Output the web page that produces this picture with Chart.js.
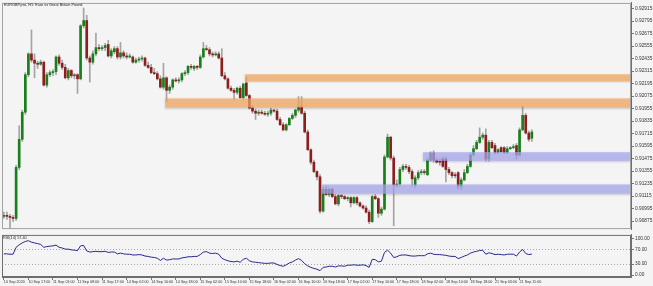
<!DOCTYPE html>
<html>
<head>
<meta charset="utf-8">
<script src="https://cdn.jsdelivr.net/npm/chart.js@4.4.0/dist/chart.umd.min.js"></script>
<style>
  body { margin: 0; background: #f4f4f4; width: 653px; height: 286px; overflow: hidden; position: relative;
         font-family: "Liberation Sans", Arial, sans-serif; }
  canvas { position: absolute; left: 0; }
  #main { top: 0; }
  #rsi { top: 232px; }
  .lbl { position: absolute; font-size: 3.8px; color: #222; white-space: nowrap; }
</style>
</head>
<body>
<canvas id="main" width="653" height="232"></canvas>
<canvas id="rsi" width="653" height="54"></canvas>
<div class="lbl" style="left:4px;top:3px">EURGBP.pro, H1: Euro vs Great Britain Pound</div>
<div class="lbl" style="left:3px;top:236px">RSI(14) 57.40</div>
<script>
// H1 bars from 10 Sep 2020 09:00 to 21 Sep 15:00
const opens = [
  0.9092,0.9093,0.9092,0.9091,0.9090,0.9139,0.9166,0.9192,0.9228,0.9248,
  0.9242,0.9239,0.9238,0.9240,0.9218,0.9228,0.9230,0.9231,0.9245,0.9239,
  0.9235,0.9225,0.9232,0.9227,0.9228,0.9224,0.9275,0.9280,0.9244,0.9240,
  0.9248,0.9254,0.9253,0.9254,0.9257,0.9246,0.9250,0.9253,0.9245,0.9249,
  0.9246,0.9245,0.9245,0.9240,0.9242,0.9243,0.9244,0.9237,0.9235,0.9230,
  0.9229,0.9224,0.9216,0.9225,0.9213,0.9216,0.9223,0.9222,0.9223,0.9229,
  0.9230,0.9236,0.9234,0.9236,0.9235,0.9245,0.9253,0.9252,0.9248,0.9247,
  0.9248,0.9244,0.9227,0.9224,0.9215,0.9213,0.9211,0.9215,0.9206,0.9220,
  0.9208,0.9196,0.9193,0.9191,0.9192,0.9191,0.9190,0.9191,0.9194,0.9193,
  0.9185,0.9180,0.9175,0.9180,0.9186,0.9189,0.9194,0.9197,0.9191,0.9173,
  0.9156,0.9144,0.9135,0.9130,0.9097,0.9118,0.9113,0.9118,0.9111,0.9104,
  0.9112,0.9111,0.9109,0.9110,0.9105,0.9110,0.9105,0.9102,0.9100,0.9096,
  0.9087,0.9111,0.9109,0.9095,0.9099,0.9149,0.9168,0.9148,0.9122,0.9123,
  0.9137,0.9140,0.9139,0.9135,0.9122,0.9129,0.9134,0.9135,0.9132,0.9146,
  0.9153,0.9146,0.9145,0.9147,0.9147,0.9137,0.9134,0.9132,0.9134,0.9121,
  0.9127,0.9134,0.9140,0.9151,0.9157,0.9163,0.9168,0.9170,0.9147,0.9163,
  0.9160,0.9153,0.9158,0.9158,0.9153,0.9157,0.9158,0.9160,0.9151,0.9175,
  0.9189,0.9172,0.9167
];
const highs = [
  0.9096,0.9096,0.9094,0.9093,0.9141,0.9179,0.9194,0.9230,0.9249,0.9271,
  0.9248,0.9241,0.9242,0.9241,0.9230,0.9232,0.9233,0.9246,0.9247,0.9242,
  0.9238,0.9234,0.9233,0.9229,0.9229,0.9276,0.9292,0.9285,0.9246,0.9251,
  0.9268,0.9257,0.9256,0.9258,0.9261,0.9253,0.9255,0.9255,0.9259,0.9251,
  0.9249,0.9248,0.9246,0.9244,0.9245,0.9246,0.9245,0.9240,0.9238,0.9234,
  0.9231,0.9227,0.9239,0.9226,0.9218,0.9224,0.9225,0.9225,0.9230,0.9232,
  0.9237,0.9238,0.9237,0.9237,0.9247,0.9259,0.9256,0.9254,0.9250,0.9250,
  0.9250,0.9253,0.9230,0.9225,0.9217,0.9215,0.9216,0.9217,0.9220,0.9226,
  0.9209,0.9198,0.9195,0.9194,0.9194,0.9193,0.9193,0.9196,0.9195,0.9195,
  0.9187,0.9182,0.9181,0.9187,0.9191,0.9195,0.9207,0.9207,0.9193,0.9175,
  0.9157,0.9146,0.9136,0.9132,0.9120,0.9121,0.9119,0.9119,0.9113,0.9113,
  0.9113,0.9112,0.9111,0.9111,0.9111,0.9111,0.9106,0.9103,0.9102,0.9098,
  0.9112,0.9113,0.9110,0.9101,0.9151,0.9171,0.9169,0.9150,0.9127,0.9139,
  0.9142,0.9142,0.9141,0.9137,0.9131,0.9136,0.9137,0.9137,0.9148,0.9154,
  0.9155,0.9148,0.9147,0.9149,0.9149,0.9139,0.9135,0.9134,0.9135,0.9129,
  0.9137,0.9142,0.9153,0.9160,0.9165,0.9177,0.9172,0.9176,0.9165,0.9165,
  0.9162,0.9157,0.9159,0.9159,0.9159,0.9159,0.9161,0.9162,0.9177,0.9198,
  0.9191,0.9174,0.9175
];
const lows = [
  0.9090,0.9089,0.9081,0.9087,0.9088,0.9137,0.9164,0.9190,0.9226,0.9240,
  0.9225,0.9234,0.9237,0.9217,0.9216,0.9226,0.9227,0.9228,0.9237,0.9233,
  0.9224,0.9223,0.9225,0.9224,0.9210,0.9223,0.9273,0.9242,0.9221,0.9238,
  0.9246,0.9251,0.9251,0.9251,0.9245,0.9244,0.9248,0.9243,0.9243,0.9244,
  0.9243,0.9244,0.9239,0.9239,0.9240,0.9241,0.9236,0.9234,0.9229,0.9228,
  0.9223,0.9215,0.9214,0.9202,0.9210,0.9214,0.9221,0.9220,0.9221,0.9227,
  0.9228,0.9233,0.9232,0.9233,0.9234,0.9244,0.9251,0.9246,0.9245,0.9246,
  0.9243,0.9226,0.9223,0.9214,0.9212,0.9204,0.9209,0.9205,0.9204,0.9207,
  0.9195,0.9191,0.9185,0.9189,0.9190,0.9189,0.9188,0.9189,0.9192,0.9184,
  0.9179,0.9174,0.9174,0.9179,0.9185,0.9187,0.9192,0.9190,0.9172,0.9155,
  0.9142,0.9134,0.9127,0.9095,0.9096,0.9112,0.9111,0.9110,0.9103,0.9102,
  0.9109,0.9108,0.9107,0.9101,0.9104,0.9103,0.9101,0.9099,0.9095,0.9085,
  0.9086,0.9108,0.9091,0.9093,0.9098,0.9148,0.9146,0.9083,0.9120,0.9121,
  0.9135,0.9137,0.9133,0.9121,0.9120,0.9127,0.9132,0.9132,0.9131,0.9145,
  0.9144,0.9143,0.9141,0.9139,0.9125,0.9132,0.9129,0.9129,0.9118,0.9118,
  0.9126,0.9133,0.9139,0.9150,0.9156,0.9162,0.9166,0.9145,0.9145,0.9157,
  0.9152,0.9152,0.9153,0.9152,0.9152,0.9156,0.9157,0.9147,0.9150,0.9174,
  0.9171,0.9164,0.9164
];
const closes = [
  0.9093,0.9092,0.9091,0.9090,0.9139,0.9166,0.9192,0.9228,0.9248,0.9242,
  0.9239,0.9238,0.9240,0.9218,0.9228,0.9230,0.9231,0.9245,0.9239,0.9235,
  0.9225,0.9232,0.9227,0.9228,0.9224,0.9275,0.9280,0.9244,0.9240,0.9248,
  0.9254,0.9253,0.9254,0.9256,0.9246,0.9251,0.9253,0.9245,0.9249,0.9246,
  0.9245,0.9246,0.9240,0.9242,0.9243,0.9244,0.9237,0.9235,0.9230,0.9229,
  0.9224,0.9216,0.9225,0.9213,0.9216,0.9223,0.9222,0.9223,0.9229,0.9230,
  0.9236,0.9235,0.9236,0.9235,0.9245,0.9253,0.9252,0.9248,0.9247,0.9248,
  0.9244,0.9227,0.9224,0.9215,0.9213,0.9211,0.9215,0.9206,0.9219,0.9208,
  0.9196,0.9193,0.9191,0.9192,0.9191,0.9190,0.9191,0.9194,0.9193,0.9185,
  0.9180,0.9175,0.9180,0.9186,0.9189,0.9194,0.9197,0.9191,0.9173,0.9156,
  0.9144,0.9135,0.9130,0.9097,0.9118,0.9113,0.9118,0.9111,0.9104,0.9112,
  0.9111,0.9109,0.9110,0.9105,0.9110,0.9105,0.9102,0.9100,0.9096,0.9087,
  0.9111,0.9109,0.9095,0.9099,0.9149,0.9168,0.9148,0.9122,0.9123,0.9137,
  0.9140,0.9139,0.9135,0.9128,0.9129,0.9134,0.9135,0.9134,0.9146,0.9153,
  0.9146,0.9144,0.9144,0.9140,0.9137,0.9134,0.9131,0.9131,0.9121,0.9127,
  0.9134,0.9140,0.9151,0.9157,0.9163,0.9168,0.9170,0.9147,0.9163,0.9158,
  0.9153,0.9156,0.9154,0.9153,0.9157,0.9158,0.9159,0.9151,0.9175,0.9189,
  0.9172,0.9166,0.9173
];
const rsiValues = [
  58,58,57,57,76,83,88,92,94,90,
  88,86,84,76,78,79,80,82,76,74,
  71,71,69,68,67,80,81,66,63,64,
  65,64,64,65,62,63,63,58,60,58,
  57,57,55,55,56,55,52,51,49,48,
  46,40,46,41,42,44,44,44,47,48,
  50,50,51,51,56,63,64,60,59,60,
  57,46,42,39,37,36,38,35,43,46,
  39,36,35,34,33,32,32,33,33,29,
  26,24,28,33,36,41,45,40,31,25,
  21,18,16,12,21,22,24,24,22,25,
  25,24,27,27,28,27,27,28,26,21,
  43,42,36,38,62,68,60,48,50,54,
  55,55,53,52,52,53,53,53,58,60,
  57,56,56,55,54,52,51,51,45,48,
  52,55,60,63,65,67,68,57,61,59,
  56,57,56,55,57,57,57,52,63,70,
  59,56,57.4
];
// one time label every 8 bars
const timeLabels = [
  '10 Sep 2020','10 Sep 17:00','11 Sep 01:00','11 Sep 09:00','11 Sep 17:00',
  '14 Sep 02:00','14 Sep 10:00','14 Sep 18:00','15 Sep 02:00','15 Sep 10:00',
  '15 Sep 18:00','16 Sep 02:00','16 Sep 10:00','16 Sep 18:00','17 Sep 02:00',
  '17 Sep 10:00','17 Sep 18:00','18 Sep 02:00','18 Sep 10:00','18 Sep 18:00',
  '21 Sep 03:00','21 Sep 11:00'
];
const priceTicks = [0.92915,0.92795,0.92675,0.92555,0.92435,0.92315,0.92195,0.92075,0.91955,
                    0.91835,0.91715,0.91595,0.91475,0.91355,0.91235,0.91115,0.90995,0.90875];
const rsiTicks = [100, 70, 30, 0];
const rsiLevels = [70, 30];
// supply / demand zones: first bar, upper price, lower price
const zoneStart = [79, 53, 137, 104];
const zoneTop = [0.92285, 0.92053, 0.91537, 0.91227];
const zoneBottom = [0.92215, 0.91965, 0.91453, 0.91137];
const zoneKind = ['supply', 'supply', 'demand', 'demand'];

Chart.defaults.font.family = "'Liberation Sans', Arial, sans-serif";
const X_MIN = -0.6, X_MAX = 204.3;
const UP = '#17801a', DOWN = '#8c1e1e', WICK = '#a4a4a4';
const tickFont = { size: 4.8, lineHeight: 0.8 };

const zonesPlugin = {
  id: 'zones',
  afterDatasetsDraw(chart) {
    const { ctx, chartArea, scales: { x, y } } = chart;
    ctx.save();
    zoneStart.forEach((s, k) => {
      const x0 = x.getPixelForValue(s - 0.5);
      const y0 = y.getPixelForValue(zoneTop[k]);
      const y1 = y.getPixelForValue(zoneBottom[k]);
      ctx.shadowColor = 'rgba(0,0,0,0.25)';
      ctx.shadowBlur = 2;
      ctx.shadowOffsetY = 1;
      ctx.fillStyle = zoneKind[k] === 'supply' ? 'rgba(251,173,98,0.7)' : 'rgba(173,173,247,0.7)';
      ctx.fillRect(x0, y0, chartArea.right - x0, y1 - y0);
    });
    ctx.restore();
  }
};

const framePlugin = {
  id: 'frame',
  afterDraw(chart, args, opts) {
    const { ctx, chartArea: a } = chart;
    ctx.save();
    ctx.strokeStyle = opts.color;
    ctx.lineWidth = 1;
    ctx.strokeRect(a.left + 0.5, a.top + 0.5, a.right - a.left - 1, a.bottom - a.top - 1);
    ctx.restore();
  }
};

const levelsPlugin = {
  id: 'levels',
  beforeDatasetsDraw(chart) {
    const { ctx, chartArea: a, scales: { y } } = chart;
    ctx.save();
    ctx.strokeStyle = '#a8a8a8';
    ctx.lineWidth = 1;
    ctx.setLineDash([1, 2]);
    rsiLevels.forEach(v => {
      const py = Math.round(y.getPixelForValue(v)) + 0.5;
      ctx.beginPath();
      ctx.moveTo(a.left, py);
      ctx.lineTo(a.right, py);
      ctx.stroke();
    });
    ctx.restore();
  }
};

const wicks = lows.map((l, i) => ({ x: i, y: [l, highs[i]] }));
const bodies = opens.map((o, i) => ({ x: i, y: [o, closes[i]] }));

new Chart(document.getElementById('main'), {
  type: 'bar',
  data: {
    datasets: [
      { data: wicks, backgroundColor: WICK, barThickness: 1, grouped: false, order: 2, minBarLength: 1 },
      { data: bodies, backgroundColor: c => closes[c.dataIndex] >= opens[c.dataIndex] ? UP : DOWN,
        barThickness: 2, grouped: false, order: 1, minBarLength: 1 }
    ]
  },
  options: {
    responsive: false,
    animation: false,
    layout: { padding: { left: 2, top: 2, right: 0, bottom: 2 } },
    plugins: { legend: { display: false }, tooltip: { enabled: false }, frame: { color: '#a2a2a2' } },
    scales: {
      x: { type: 'linear', min: X_MIN, max: X_MAX, offset: false, display: false },
      y: {
        position: 'right', min: 0.90798, max: 0.92969,
        afterFit: s => { s.width = 22; },
        afterBuildTicks: s => { s.ticks = priceTicks.map(v => ({ value: v })); },
        ticks: { callback: v => v.toFixed(5), font: tickFont, color: '#333', padding: 1 },
        grid: { drawOnChartArea: false, drawTicks: true, tickLength: 3, tickColor: '#777' },
        border: { display: true, color: '#707070' }
      }
    }
  },
  plugins: [zonesPlugin, framePlugin]
});

new Chart(document.getElementById('rsi'), {
  type: 'line',
  data: {
    datasets: [{
      data: rsiValues.map((v, i) => ({ x: i, y: v })),
      borderColor: '#28288c', borderWidth: 1, pointRadius: 0, tension: 0
    }]
  },
  options: {
    responsive: false,
    animation: false,
    layout: { padding: { left: 2, top: 2, right: 0, bottom: 0 } },
    plugins: { legend: { display: false }, tooltip: { enabled: false }, frame: { color: '#6e6e6e' } },
    scales: {
      x: {
        type: 'linear', min: X_MIN, max: X_MAX, offset: false,
        afterFit: s => { s.height = 9; },
        afterBuildTicks: s => { s.ticks = timeLabels.map((t, k) => ({ value: k * 8 })); },
        ticks: { autoSkip: false, maxRotation: 0, align: 'start', padding: 0,
                 callback: v => timeLabels[v / 8], font: { size: 3.7, lineHeight: 1 }, color: '#333' },
        grid: { drawOnChartArea: false, drawTicks: true, tickLength: 3, tickColor: '#777' },
        border: { display: true, color: '#6e6e6e' }
      },
      y: {
        position: 'right', min: -5.4, max: 109.9,
        afterFit: s => { s.width = 22; },
        afterBuildTicks: s => { s.ticks = rsiTicks.map(v => ({ value: v })); },
        ticks: { callback: v => v.toFixed(2), font: tickFont, color: '#333', padding: 1 },
        grid: { drawOnChartArea: false, drawTicks: true, tickLength: 3, tickColor: '#777' },
        border: { display: true, color: '#707070' }
      }
    }
  },
  plugins: [levelsPlugin, framePlugin]
});
</script>
</body>
</html>
